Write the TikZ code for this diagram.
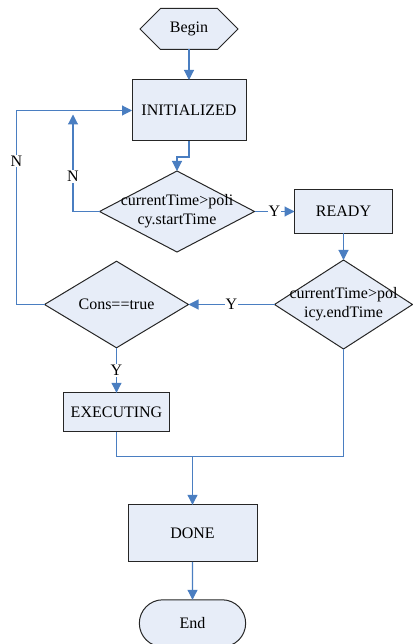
\documentclass[tikz,border=0pt]{standalone}
\usepackage{fontspec}
\setmainfont{Liberation Serif}
\usetikzlibrary{shapes.geometric, shapes.symbols, shapes.misc, arrows.meta, positioning}
\definecolor{lineblue}{RGB}{74,126,193}
\definecolor{boxfill}{RGB}{231,237,248}

\begin{document}
\begin{tikzpicture}[
    x=1pt, y=1pt,
    font=\fontsize{16}{19}\selectfont,
    state/.style = {rectangle, draw=black!85, fill=boxfill, line width=1pt, outer sep=0pt},
    decision/.style = {diamond, draw=black!85, fill=boxfill, line width=1pt, inner sep=0pt, outer sep=0pt},
    hexa/.style = {signal, signal to=west and east, signal pointer angle=90, draw=black!85, fill=boxfill, line width=1pt, outer sep=0pt, minimum width=98pt, minimum height=41pt},
    terminator/.style = {rounded rectangle, draw=black!85, fill=boxfill, line width=1pt, outer sep=0pt, minimum width=113pt, minimum height=47pt},
    line/.style = {draw=lineblue, line width=1.1pt, ->},
    wire/.style = {draw=lineblue, line width=1.1pt},
    lab/.style = {fill=white, inner sep=1pt},
    >={Triangle[length=10pt, width=10pt]}]

    \useasboundingbox (0,0) rectangle (412,-644);

    \node[hexa] (begin) at (189,-29) {Begin};
    \node[state, below=30.5pt of begin, minimum width=114pt, minimum height=61pt] (init) {INITIALIZED};
    \node[decision, below=30pt of init, xshift=-12pt, minimum width=155pt, minimum height=81pt] (start)
        {\makebox[0pt]{\begin{tabular}{c}currentTime>poli\\cy.startTime\end{tabular}}};
    \node[state, right=40pt of start, minimum width=98pt, minimum height=43pt] (ready) {READY};
    \node[decision, below=27pt of ready, minimum width=138pt, minimum height=89pt] (endt)
        {\makebox[0pt]{\begin{tabular}{c}currentTime>pol\\icy.endTime\end{tabular}}};
    \node[decision, left=86pt of endt, minimum width=144pt, minimum height=78pt] (cons) {Cons==true};
    \node[state, below=45pt of cons, minimum width=106pt, minimum height=39pt] (exec) {EXECUTING};
    \node[state, below=73pt of exec, xshift=76pt, minimum width=129pt, minimum height=57pt] (done) {DONE};
    \node[terminator, below=38pt of done] (end) {End};

    \coordinate (back) at ([xshift=-59pt, yshift=-4pt]init.west);
    \coordinate (merge) at ([yshift=48pt]done.north);

    \draw[line] (begin) -- (init);
    \draw[line] (init.south) -- ++(0,-16) -| (start.north);
    \draw[line] (start) -- node[lab] {Y} (ready);
    \draw[line] (start.west) -| node[lab, pos=0.68] {N} (back);
    \draw[line] (ready) -- (endt);
    \draw[line] (endt) -- node[lab] {Y} (cons);
    \draw[line] (cons.west) -- ++(-28,0) |- node[lab, pos=0.37] {N} (init.west);
    \draw[line] (cons) -- node[lab] {Y} (exec);
    \draw[wire] (exec.south) |- (merge) -| (endt.south);
    \draw[line] (merge) -- (done);
    \draw[line] (done) -- (end);
\end{tikzpicture}
\end{document}
